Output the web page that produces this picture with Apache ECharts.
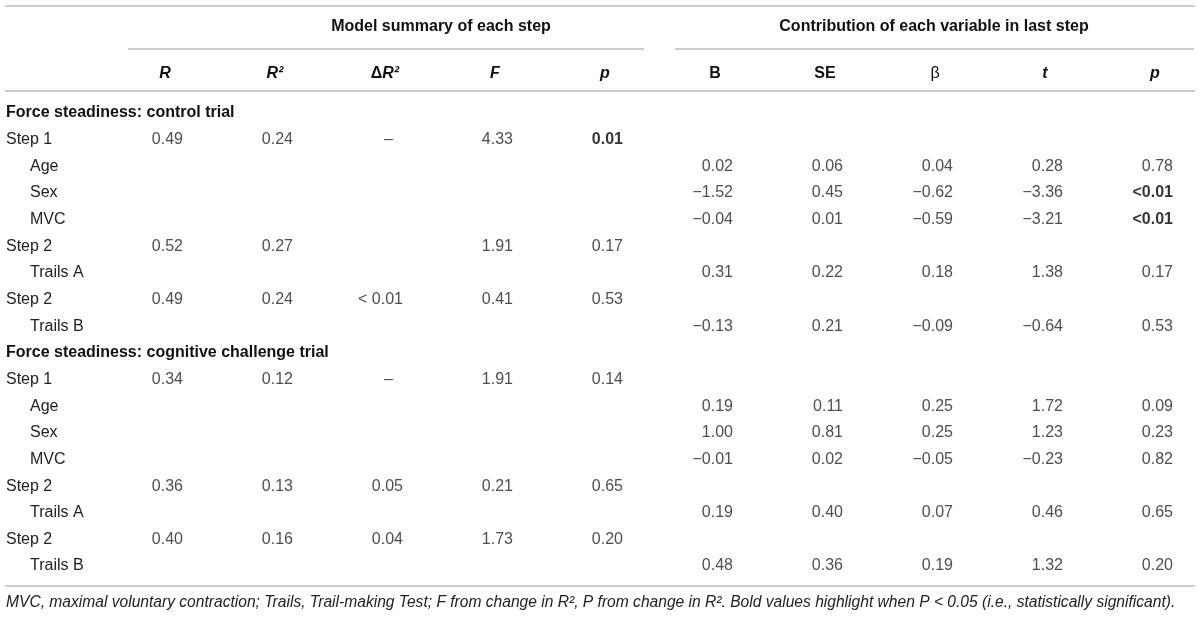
<!DOCTYPE html>
<html>
<head>
<meta charset="utf-8">
<script src="https://cdn.jsdelivr.net/npm/echarts@6/dist/echarts.min.js"></script>
<style>
html,body{margin:0;background:#fff}
#main{width:1200px;height:620px}
</style>
</head>
<body>
<div id="main"></div>
<script>
let rowLabels=['Force steadiness: control trial','Step 1','Age','Sex','MVC','Step 2','Trails A','Step 2','Trails B',
    'Force steadiness: cognitive challenge trial','Step 1','Age','Sex','MVC','Step 2','Trails A','Step 2','Trails B']
let rowKinds=['sec','step','var','var','var','step','var','step','var','sec','step','var','var','var','step','var','step','var']
let colHeads=['R','R²','ΔR²','F','p','B','SE','β','t','p']
let headKinds=['bi','bi','bi','bi','bi','b','b','n','bi','bi']
let groupHeads=['Model summary of each step','Contribution of each variable in last step']

let colR   =[null,0.49,null,null,null,0.52,null,0.49,null, null,0.34,null,null,null,0.36,null,0.40,null]
let colR2  =[null,0.24,null,null,null,0.27,null,0.24,null, null,0.12,null,null,null,0.13,null,0.16,null]
let colDR2 =[null,'–',null,null,null,null,null,'< 0.01',null, null,'–',null,null,null,0.05,null,0.04,null]
let colF   =[null,4.33,null,null,null,1.91,null,0.41,null, null,1.91,null,null,null,0.21,null,1.73,null]
let colP   =[null,0.01,null,null,null,0.17,null,0.53,null, null,0.14,null,null,null,0.65,null,0.20,null]
let colB   =[null,null,0.02,-1.52,-0.04,null,0.31,null,-0.13, null,null,0.19,1.00,-0.01,null,0.19,null,0.48]
let colSE  =[null,null,0.06,0.45,0.01,null,0.22,null,0.21, null,null,0.11,0.81,0.02,null,0.40,null,0.36]
let colBeta=[null,null,0.04,-0.62,-0.59,null,0.18,null,-0.09, null,null,0.25,0.25,-0.05,null,0.07,null,0.19]
let colT   =[null,null,0.28,-3.36,-3.21,null,1.38,null,-0.64, null,null,1.72,1.23,-0.23,null,0.46,null,1.32]
let colP2  =[null,null,0.78,'<0.01','<0.01',null,0.17,null,0.53, null,null,0.09,0.23,0.82,null,0.65,null,0.20]
// [column, row] of the values printed in bold (P < 0.05)
let sigCells=[[4,1],[9,3],[9,4]]

let note='MVC, maximal voluntary contraction; Trails, Trail-making Test; F from change in R², P from change in R². Bold values highlight when P < 0.05 (i.e., statistically significant).'

let font='"Liberation Sans", Arial, Helvetica, sans-serif'
let columns=[colR,colR2,colDR2,colF,colP,colB,colSE,colBeta,colT,colP2]

function fmt(v){
    if(typeof v==='number') return v.toFixed(2).replace('-','−')
    return v
}

let cells=[]
columns.forEach(function(col,c){
    col.forEach(function(v,r){
        if(v===null) return
        let item={value:[c,r,fmt(v)]}
        // the dash sits a little left of the number column
        if(v==='–') item.label={offset:[-10,0]}
        for(let s of sigCells){
            if(s[0]==c&&s[1]==r) item.label={fontWeight:'bold',color:'#000'}
        }
        cells.push(item)
    })
})

let myChart=echarts.init(document.getElementById('main'))

let lineStyle={stroke:'#cdcdcd',lineWidth:2}
let option={
    animation:false,
    backgroundColor:'#fff',
    textStyle:{fontFamily:font},
    grid:{left:183,right:27,top:99.7,bottom:40.6,outerBoundsMode:'none'},
    xAxis:{
        type:'value',position:'top',min:0,max:9,interval:1,
        axisLine:{show:false},axisTick:{show:false},splitLine:{show:false},
        axisLabel:{
            margin:18,padding:[0,36,0,0],showMinLabel:true,showMaxLabel:true,
            formatter:function(v){
                let h=colHeads[v]
                if(h===undefined) return ''
                if(h[0]=='Δ') return `{b|Δ}{bi|${h.slice(1)}}`
                return `{${headKinds[v]}|${h}}`
            },
            rich:{
                bi:{fontFamily:font,fontSize:16,fontWeight:'bold',fontStyle:'italic',color:'#111'},
                b:{fontFamily:font,fontSize:16,fontWeight:'bold',color:'#111'},
                n:{fontFamily:font,fontSize:16,color:'#111'}
            }
        }
    },
    yAxis:{
        type:'category',inverse:true,data:rowLabels,
        axisLine:{show:false},axisTick:{show:false},splitLine:{show:false},
        axisLabel:{
            interval:0,align:'left',margin:177,
            formatter:function(v,i){
                return `{${rowKinds[i]}|${v}}`
            },
            rich:{
                sec:{fontFamily:font,fontSize:16,fontWeight:'bold',color:'#111'},
                step:{fontFamily:font,fontSize:16,color:'#222'},
                var:{fontFamily:font,fontSize:16,color:'#222',padding:[0,0,0,24]}
            }
        }
    },
    series:[{
        type:'scatter',
        symbolSize:0,
        silent:true,
        data:cells,
        label:{
            show:true,position:'left',distance:0,
            fontFamily:font,fontSize:16,color:'#222',
            formatter:function(p){return p.value[2]}
        }
    }],
    graphic:[
        {type:'line',shape:{x1:5,y1:6,x2:1195,y2:6},style:lineStyle},
        {type:'line',shape:{x1:128,y1:49,x2:644,y2:49},style:lineStyle},
        {type:'line',shape:{x1:675,y1:49,x2:1194,y2:49},style:lineStyle},
        {type:'line',shape:{x1:5,y1:91,x2:1195,y2:91},style:lineStyle},
        {type:'line',shape:{x1:5,y1:586,x2:1195,y2:586},style:lineStyle},
        {type:'text',x:441,y:27,style:{text:groupHeads[0],fill:'#111',font:`bold 16px ${font}`,textAlign:'center',textVerticalAlign:'middle'}},
        {type:'text',x:934,y:27,style:{text:groupHeads[1],fill:'#111',font:`bold 16px ${font}`,textAlign:'center',textVerticalAlign:'middle'}},
        {type:'text',x:6,y:603,style:{text:note,fill:'#222',font:`italic 15.6px ${font}`,textAlign:'left',textVerticalAlign:'middle'}}
    ]
}

myChart.setOption(option)
</script>
</body>
</html>
